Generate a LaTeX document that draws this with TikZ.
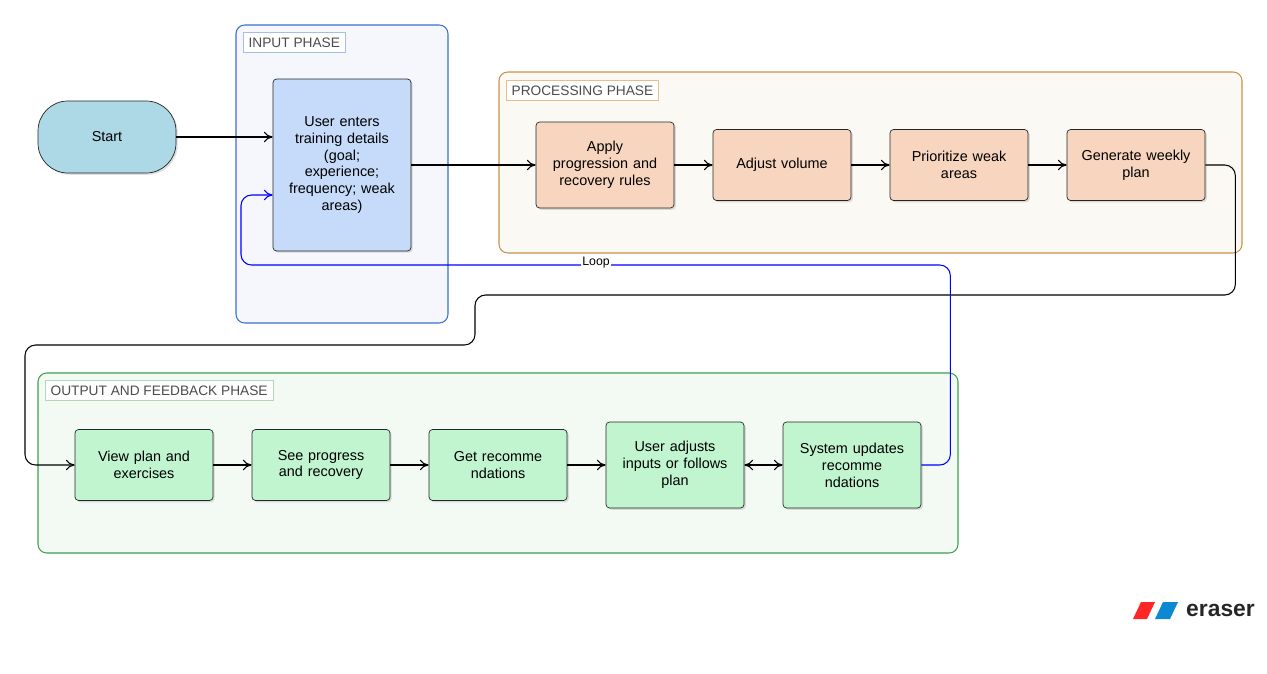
\documentclass[tikz,border=0pt]{standalone}
\usepackage{fontspec}
\setmainfont{Liberation Sans}
\usetikzlibrary{arrows.meta,shadows}
\definecolor{startc}{HTML}{ADD8E6}
\definecolor{inb}{HTML}{C6DBFA}
\definecolor{prb}{HTML}{F8D5BE}
\definecolor{ogb}{HTML}{C1F5CF}
\definecolor{gib}{HTML}{3A6FD0}
\definecolor{gif}{HTML}{F5F7FC}
\definecolor{gpb}{HTML}{C8934A}
\definecolor{gpf}{HTML}{FBF9F4}
\definecolor{gpl}{HTML}{E6BE8C}
\definecolor{gob}{HTML}{3CA050}
\definecolor{gof}{HTML}{F3FAF4}
\definecolor{gol}{HTML}{B0D8B8}
\definecolor{gil}{HTML}{A8BCE8}
\begin{document}
\begin{tikzpicture}[x=0.02cm,y=-0.02cm,
  every node/.style={font=\fontsize{8.2}{9.6}\selectfont},
  box/.style={draw=black!85,rounded corners=2pt,minimum width=2.76cm,align=center,text width=2.5cm,drop shadow={shadow xshift=1pt,shadow yshift=-1pt,opacity=0.25}},
  grp/.style={rounded corners=5pt,line width=0.6pt},
  glab/.style={draw=#1,fill=white,anchor=north west,inner sep=3pt,font=\fontsize{7.8}{9}\selectfont,text=black!70},
  arr/.style={-{To[length=5pt,width=6pt]},line width=0.6pt,rounded corners=6pt}]
\useasboundingbox (0,0) rectangle (1267,673);
% groups
\draw[grp,draw=gib,fill=gif] (236,25) rectangle (448,323);
\node[glab=gil] (gi) at (243,32) {INPUT PHASE};
\draw[grp,draw=gpb,fill=gpf] (499,72) rectangle (1242,253);
\node[glab=gpl] (gp) at (506,80) {PROCESSING PHASE};
\draw[grp,draw=gob,fill=gof] (38,373) rectangle (958,553);
\node[glab=gol] (go) at (45,380) {OUTPUT AND FEEDBACK PHASE};
% nodes
\node[box,fill=startc,rounded corners=17pt,minimum height=1.44cm] (s) at (107,137) {Start};
\node[box,fill=inb,minimum height=3.44cm] (u) at (342,165) {User enters\\training details\\(goal;\\experience;\\frequency; weak\\areas)};
\node[box,fill=prb,minimum height=1.72cm] (a) at (605,165) {Apply\\progression and\\recovery rules};
\node[box,fill=prb,minimum height=1.42cm] (v) at (782,165) {Adjust volume};
\node[box,fill=prb,minimum height=1.42cm] (p) at (959,165) {Prioritize weak\\areas};
\node[box,fill=prb,minimum height=1.42cm] (g) at (1136,165) {Generate weekly\\plan};
\node[box,fill=ogb,minimum height=1.42cm] (o1) at (144,465) {View plan and\\exercises};
\node[box,fill=ogb,minimum height=1.42cm] (o2) at (321,465) {See progress\\and recovery};
\node[box,fill=ogb,minimum height=1.42cm] (o3) at (498,465) {Get recomme\\ndations};
\node[box,fill=ogb,minimum height=1.72cm] (o4) at (675,465) {User adjusts\\inputs or follows\\plan};
\node[box,fill=ogb,minimum height=1.72cm] (o5) at (852,465) {System updates\\recomme\\ndations};
% edges
\draw[arr] (s.east) -- (u.west|-s.east);
\draw[arr] (u.east|-a.west) -- (a.west);
\draw[arr] (a) -- (v);
\draw[arr] (v) -- (p);
\draw[arr] (p) -- (g);
\draw[arr] (g.east) -- ++(30,0) |- (475,295) |- (25,345) |- (o1.west);
\draw[arr] (o1) -- (o2);
\draw[arr] (o2) -- (o3);
\draw[arr] (o3) -- (o4);
\draw[arr,{To[length=5pt,width=6pt]}-{To[length=5pt,width=6pt]}] (o4) -- (o5);
\draw[arr,blue] (o5.east) -- ++(29,0) |- (241,265) |- (u.west|-0,195);
\node[fill=white,inner sep=1pt,font=\fontsize{7}{8}\selectfont] (lp) at (596,263) {Loop};
% logo
\fill[red!80!pink] (1133,619) -- (1141,602) -- (1155,602) -- (1147,619) -- cycle;
\fill[cyan!70!blue] (1155,619) -- (1163,602) -- (1178,602) -- (1170,619) -- cycle;
\node[anchor=west,font=\fontsize{13}{14}\selectfont\bfseries,text=black!85] (lg) at (1180,610) {eraser};
\end{tikzpicture}
\end{document}
